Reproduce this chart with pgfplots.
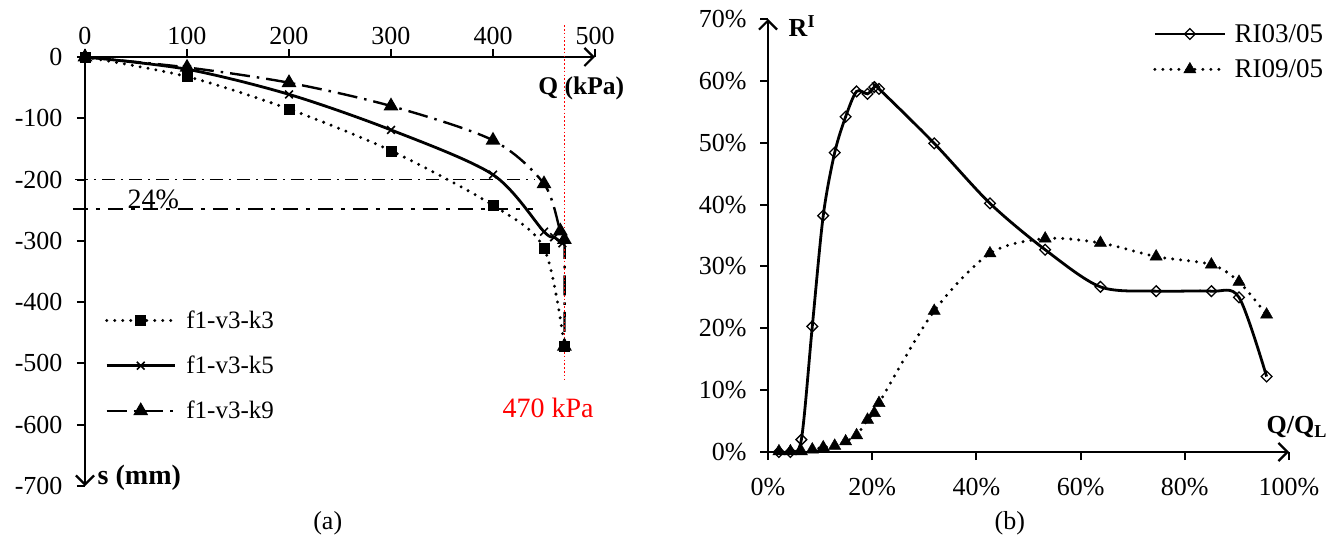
\documentclass[border=0pt]{standalone}
\usepackage{fontspec}
\setmainfont{Liberation Serif}
\usepackage{pgfplots}
\pgfplotsset{compat=1.18}
\usetikzlibrary{arrows.meta}
\newcommand{\bigf}{\fontsize{25}{30}\selectfont}
\newcommand{\tickf}{\fontsize{26}{30}\selectfont}
\begin{document}
\begin{tikzpicture}
\path[use as bounding box] (0pt,0pt) rectangle (1341pt,-540pt);
\coordinate (OA) at (85pt,-57pt);
\coordinate (OB) at (768pt,-452pt);
% ---------------- (a)
\begin{axis}[
  at={(OA)}, anchor=north west,
  scale only axis, width=510pt, height=429pt,
  xmin=0, xmax=500, ymin=-700, ymax=0,
  clip=false,
  axis x line*=top, axis y line*=left,
  x axis line style={line width=2.6pt, -{Straight Barb[length=9pt,width=18pt,line width=2.2pt]}},
  y axis line style={line width=2.6pt, {Straight Barb[length=9pt,width=18pt,line width=2.2pt]}-},
  every tick/.style={black, line width=2pt},
  major tick length=8pt, tick align=outside,
  xtick={0,100,...,500}, ytick={-700,-600,...,0},
  yticklabels={-700,-600,-500,-400,-300,-200,-100,0},
  /pgf/number format/assume math mode=true,
  tick label style={font=\tickf},
  xticklabel style={yshift=1pt},
  yticklabel style={xshift=-11pt},
  legend style={draw=none, fill=none, at={(0.039,0.413)}, anchor=north west,
    font=\bigf, row sep=22pt, inner sep=0pt},
  /tikz/every odd column/.append style={column sep=8pt},
  legend cell align=left,
  legend image code/.code={\draw[mark repeat=2,mark phase=2,#1] plot coordinates {(0pt,0pt)(34pt,0pt)(68pt,0pt)};},
]
\addplot[black, line width=3.3pt, dash pattern=on 0pt off 8pt, line cap=round, smooth, tension=0.5,
  mark=square*, mark size=5pt, mark options={solid, line cap=butt, line width=0.5pt}]
  coordinates {(0,0) (100,-32) (200,-85) (300,-153) (400,-242) (450,-312) (470,-472)};
\addlegendentry{f1-v3-k3}
\addplot[black, line width=2.8pt, smooth, tension=0.5,
  mark=x, mark size=5.5pt, mark options={solid, line width=1.6pt}]
  coordinates {(0,0) (100,-20) (200,-61) (300,-119) (400,-192) (450,-285) (460,-294) (468,-304)};
\addlegendentry{f1-v3-k5}
\addplot[black, line width=2.4pt, dash pattern=on 20pt off 7pt on 2.5pt off 7pt, smooth, tension=0.5,
  mark=triangle*, mark size=6.2pt, mark options={solid}]
  coordinates {(0,0) (100,-17) (200,-42) (300,-80) (400,-136) (450,-207) (466,-284) (470,-298) (470,-472)};
\addlegendentry{f1-v3-k9}
\addplot[black, line width=1.3pt, dash pattern=on 13pt off 6pt on 2pt off 6pt, forget plot]
  coordinates {(-10,-200) (441,-200)};
\addplot[black, line width=2.6pt, dash pattern=on 15pt off 8pt on 4pt off 8pt, forget plot]
  coordinates {(-12,-248) (439,-248)};
\addplot[red, line width=1.6pt, dash pattern=on 1.6pt off 2.2pt, forget plot]
  coordinates {(470,52) (470,-530)};
\node[font=\fontsize{28}{32}\selectfont] at (axis cs:67,-233) {24\%};
\node[font=\bfseries\fontsize{25.5}{30}\selectfont, anchor=east] at (axis cs:532,-52) {Q (kPa)};
\node[font=\bfseries\fontsize{28}{32}\selectfont, anchor=west] at (axis cs:9,-687) {s (mm)};
\node[font=\fontsize{28}{32}\selectfont, text=red] at (axis cs:454,-573) {470 kPa};
\node[font=\fontsize{26}{30}\selectfont] at (axis cs:238,-760) {(a)};
\end{axis}
% ---------------- (b)
\begin{axis}[
  at={(OB)}, anchor=south west,
  scale only axis, width=521pt, height=433pt,
  xmin=0, xmax=100, ymin=0, ymax=70,
  clip=false,
  axis x line*=bottom, axis y line*=left,
  x axis line style={line width=2.6pt, -{Straight Barb[length=9pt,width=18pt,line width=2.2pt]}},
  y axis line style={line width=2.6pt, -{Straight Barb[length=9pt,width=18pt,line width=2.2pt]}},
  every tick/.style={black, line width=2pt},
  major tick length=8pt, tick align=outside,
  xtick={0,20,...,100}, ytick={0,10,...,70},
  xticklabel={\pgfmathprintnumber{\tick}\%},
  yticklabel={\pgfmathprintnumber{\tick}\%},
  /pgf/number format/assume math mode=true,
  tick label style={font=\tickf},
  xticklabel style={yshift=-15pt},
  yticklabel style={xshift=-10pt},
  legend style={draw=none, fill=none, at={(0.739,0.993)}, anchor=north west,
    font=\fontsize{27}{32}\selectfont, row sep=12pt, inner sep=0pt},
  /tikz/every odd column/.append style={column sep=6pt},
  legend cell align=left,
  legend image code/.code={\draw[mark repeat=2,mark phase=2,#1] plot coordinates {(0pt,0pt)(35pt,0pt)(70pt,0pt)};},
]
\addplot[black, line width=2.8pt, smooth, tension=0.5,
  mark=square, mark size=3.8pt, mark options={solid, rotate=45, fill=white, line width=1.3pt}]
  coordinates {(2.1,0) (4.3,0) (6.4,2.0) (8.5,20.3) (10.6,38.2) (12.8,48.4) (14.9,54.2) (17.0,58.3)
   (19.1,57.9) (20.4,59.0) (21.3,58.7) (31.9,49.9) (42.6,40.2) (53.2,32.7) (63.8,26.7)
   (74.5,26.0) (85.1,26.0) (90.4,25.0) (95.7,12.2)};
\addlegendentry{RI03/05}
\addplot[black, line width=3.3pt, dash pattern=on 0pt off 8pt, line cap=round, smooth, tension=0.5,
  mark=triangle*, mark size=7pt, mark options={solid, line cap=butt, line width=0.5pt}]
  coordinates {(2.1,0.1) (4.3,0.1) (6.4,0.1) (8.5,0.4) (10.6,0.75) (12.8,1.0) (14.9,1.7) (17.0,2.7)
   (19.1,5.2) (20.4,6.3) (21.3,7.9) (31.9,22.8) (42.6,32.1) (53.2,34.5) (63.8,33.8)
   (74.5,31.6) (85.1,30.3) (90.4,27.5) (95.7,22.2)};
\addlegendentry{RI09/05}
\node[font=\bfseries\fontsize{26}{30}\selectfont, anchor=west] at (axis cs:3.3,68.8) {R\textsuperscript{I}};
\node[font=\bfseries\fontsize{26}{30}\selectfont] at (axis cs:101.5,4.0) {Q/Q\textsubscript{L}};
\node[font=\fontsize{26}{30}\selectfont] at (axis cs:46.4,-11.5) {(b)};
\end{axis}
\end{tikzpicture}
\end{document}
